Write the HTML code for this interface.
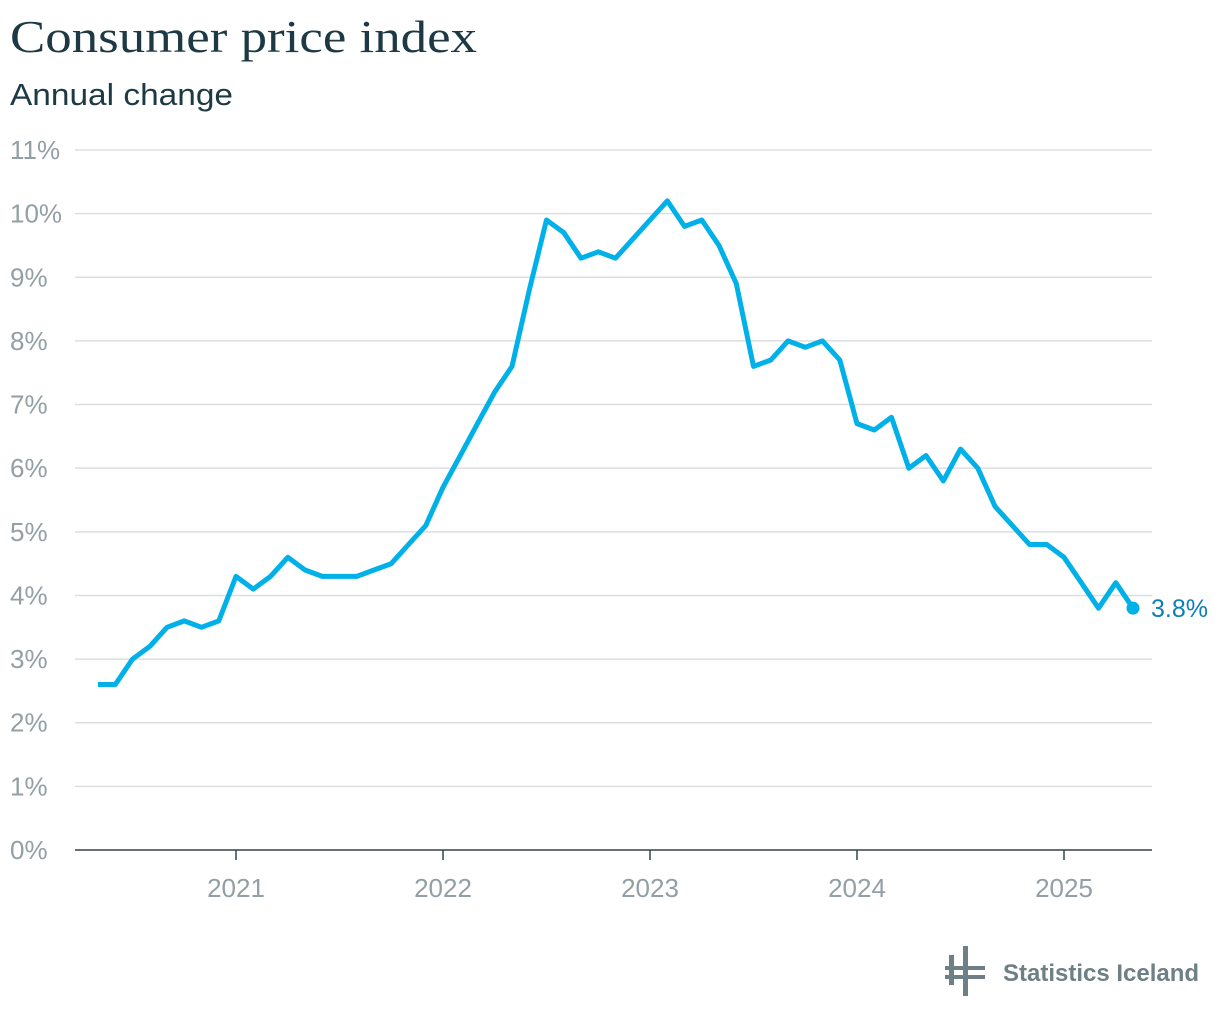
<!DOCTYPE html>
<html><head><meta charset="utf-8"><style>
body{margin:0;background:#fff;width:1220px;height:1022px;overflow:hidden;font-family:"Liberation Sans",sans-serif}
</style></head><body>
<svg id="chart" width="1220" height="1022" xmlns="http://www.w3.org/2000/svg">
<text x="10" y="52" font-family="Liberation Serif, serif" font-size="46" textLength="467" lengthAdjust="spacingAndGlyphs" fill="#1d3a44">Consumer price index</text>
<text x="10" y="105" font-family="Liberation Sans, sans-serif" font-size="31" textLength="223" lengthAdjust="spacingAndGlyphs" fill="#1d3a44">Annual change</text>
<g id="grid"></g><g id="xaxis"></g><g id="series"></g>
<g>
<rect x="949" y="955" width="5" height="30" fill="#6e7f86"/>
<rect x="963" y="946" width="5" height="50" fill="#6e7f86"/>
<rect x="945" y="966" width="40" height="4" fill="#6e7f86"/>
<rect x="945" y="975" width="40" height="4" fill="#6e7f86"/>
<text x="1003" y="981" font-size="24" font-weight="bold" fill="#6e7f86">Statistics Iceland</text>
</g>
</svg>
<script>
const values=[2.6,2.6,3.0,3.2,3.5,3.6,3.5,3.6,
4.3,4.1,4.3,4.6,4.4,4.3,4.3,4.3,4.4,4.5,4.8,5.1,
5.7,6.2,6.7,7.2,7.6,8.8,9.9,9.7,9.3,9.4,9.3,9.6,
9.9,10.2,9.8,9.9,9.5,8.9,7.6,7.7,8.0,7.9,8.0,7.7,
6.7,6.6,6.8,6.0,6.2,5.8,6.3,6.0,5.4,5.1,4.8,4.8,
4.6,4.2,3.8,4.2,3.8];
const startYear=2020, startMonth=4;
const yTicks=[0,1,2,3,4,5,6,7,8,9,10,11];
const xTickYears=[2021,2022,2023,2024,2025];
const NS="http://www.w3.org/2000/svg";
const y=v=>850-v*(700/11);
const x=m=>236+(m-12*2021)*(207/12);
const mi=i=>startYear*12+startMonth+i;
function mk(t,a,p){const e=document.createElementNS(NS,t);for(const k in a)e.setAttribute(k,a[k]);p.appendChild(e);return e;}
const grid=document.getElementById('grid');
yTicks.forEach(v=>{
 if(v>0){const l=mk('line',{x1:75,x2:1152,y1:y(v),y2:y(v),stroke:'#dcdfe0','stroke-width':1.5},grid);
 
 }
 const t=mk('text',{x:10,y:y(v)+9,'font-size':26,fill:'#929fa4'},grid);
 t.textContent=v+'%';
 
 
});
const xa=document.getElementById('xaxis');
const base=mk('line',{x1:75,x2:1152,y1:850,y2:850,stroke:'#33444a','stroke-width':1.5},xa);


xTickYears.forEach(yr=>{
 const px=x(yr*12);
 const tk=mk('line',{x1:px,x2:px,y1:850,y2:860,stroke:'#33444a','stroke-width':1.5},xa);
 
 
 const t=mk('text',{x:px,y:897,'text-anchor':'middle','font-size':26,fill:'#929fa4'},xa);
 t.textContent=yr;
 
 
});
const s=document.getElementById('series');
const d=values.map((v,i)=>(i?'L':'M')+x(mi(i)).toFixed(1)+','+y(v).toFixed(1)).join('');
const p=mk('path',{d:d,fill:'none',stroke:'#00b0e8','stroke-width':5,'stroke-linejoin':'round'},s);


const li=values.length-1,lv=values[li];
const c=mk('circle',{cx:x(mi(li)),cy:y(lv),r:6.5,fill:'#00b0e8'},s);


const lt=mk('text',{x:x(mi(li))+18,y:y(lv)+9,'font-size':25,fill:'#0a7fb8'},s);
lt.textContent=lv.toFixed(1)+'%';


</script>
</body></html>
